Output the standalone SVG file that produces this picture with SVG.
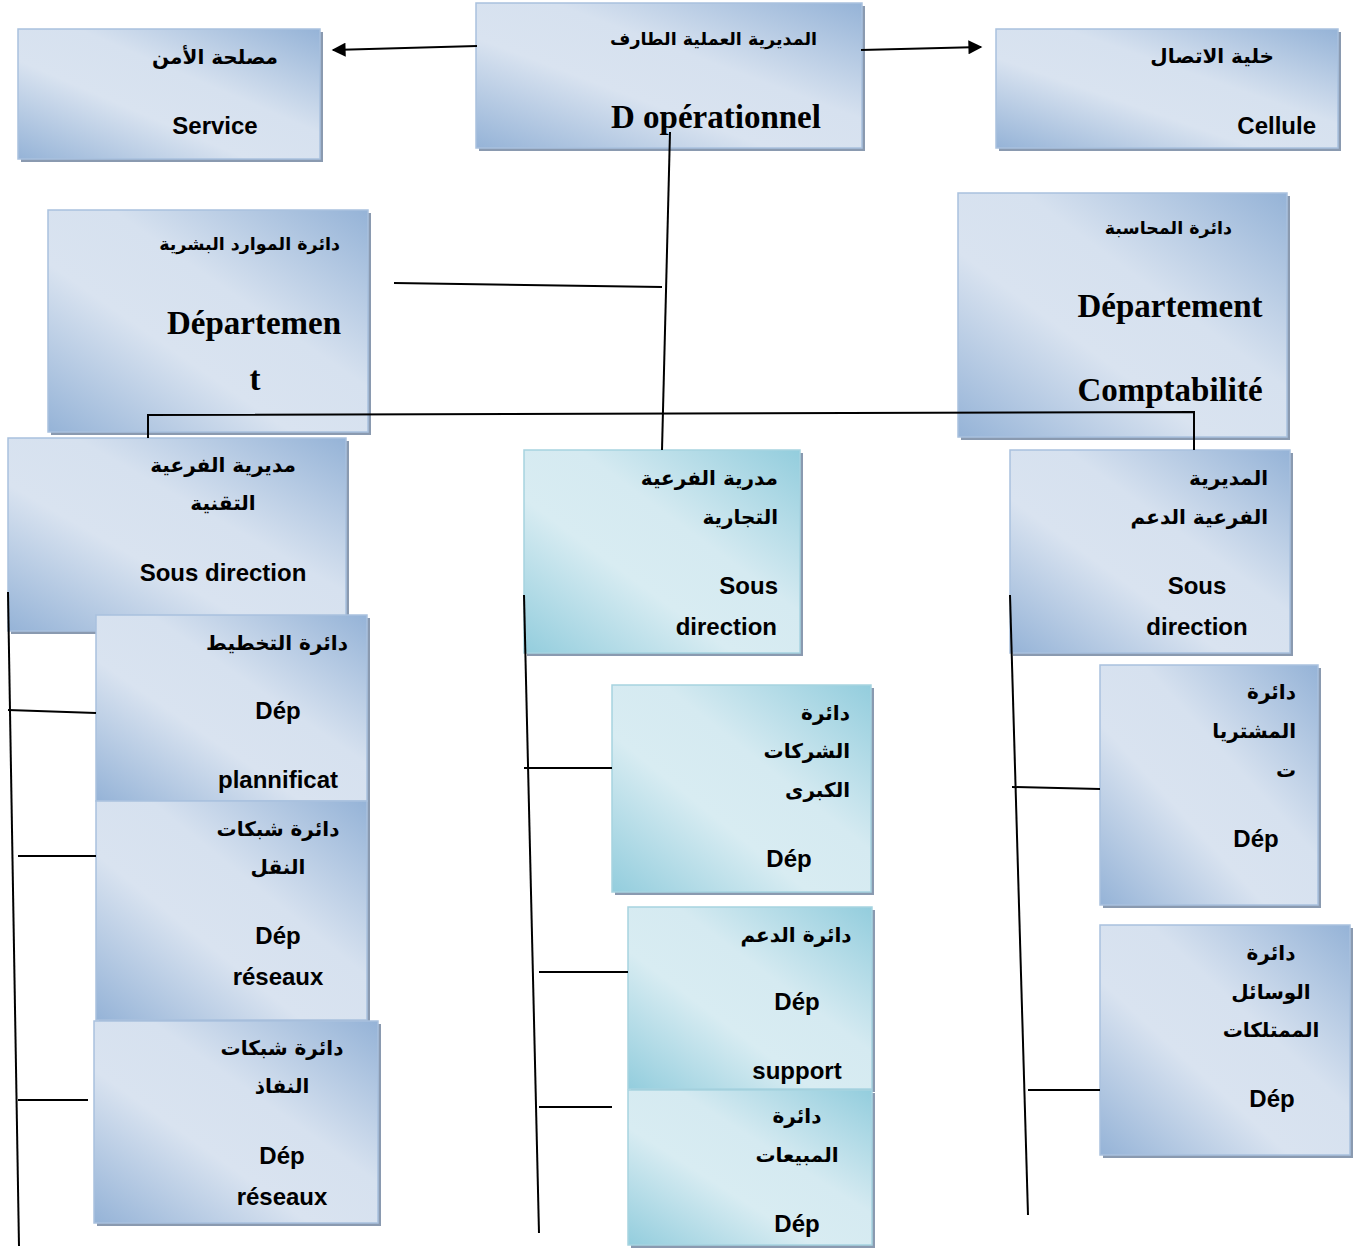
<svg xmlns="http://www.w3.org/2000/svg" width="1359" height="1248" viewBox="0 0 1359 1248">
<defs>
<linearGradient id="gb" x1="0" y1="1" x2="1" y2="0">
<stop offset="0" stop-color="#95b3d7"/>
<stop offset="0.38" stop-color="#d9e3f0"/>
<stop offset="0.6" stop-color="#d6e1ef"/>
<stop offset="1" stop-color="#95b3d7"/>
</linearGradient>
<linearGradient id="gt" x1="0" y1="1" x2="1" y2="0">
<stop offset="0" stop-color="#93cddd"/>
<stop offset="0.38" stop-color="#d8ecf2"/>
<stop offset="0.6" stop-color="#d5eaf1"/>
<stop offset="1" stop-color="#93cddd"/>
</linearGradient>
<marker id="ah" viewBox="0 0 10 10" refX="9" refY="5" markerWidth="17" markerHeight="14" markerUnits="userSpaceOnUse" orient="auto">
<path d="M0,0 L10,5 L0,10 z" fill="#000"/>
</marker>
</defs>
<style>
.sh{fill:#8a9ab0}
.bb{fill:url(#gb);stroke:#a9c1de;stroke-width:1.5}
.bt{fill:url(#gt);stroke:#a6d3e0;stroke-width:1.5}
.ar{font-family:"DejaVu Sans",sans-serif;font-weight:bold;font-size:20px;fill:#000}
.nk{font-size:17.5px}
.la{font-family:"Liberation Sans",Arial,sans-serif;font-weight:bold;font-size:24px;fill:#000}
.se{font-family:"Liberation Serif","Times New Roman",serif;font-weight:bold;font-size:33px;fill:#000}
.ln{stroke:#000;stroke-width:2;fill:none}
.m{text-anchor:middle}
.e{text-anchor:end}
</style>

<g id="n-securite">
<rect class="sh" x="21" y="32" width="302" height="130"/>
<rect class="bb" x="18" y="29" width="302" height="130"/>
<text class="ar e" x="278" y="64">مصلحة الأمن</text>
<text class="la m" x="215" y="134">Service</text>
</g>

<g id="n-direction">
<rect class="sh" x="479" y="6" width="386" height="145"/>
<rect class="bb" x="476" y="3" width="386" height="145"/>
<text class="ar nk e" x="817" y="45">المديرية العملية الطارف</text>
<text class="se m" x="716" y="128">D opérationnel</text>
</g>

<g id="n-cellule">
<rect class="sh" x="999" y="32" width="342" height="119"/>
<rect class="bb" x="996" y="29" width="342" height="119"/>
<text class="ar e" x="1274" y="63">خلية الاتصال</text>
<text class="la e" x="1316" y="134">Cellule</text>
</g>

<g id="n-rh">
<rect class="sh" x="51" y="213" width="320" height="222"/>
<rect class="bb" x="48" y="210" width="320" height="222"/>
<text class="ar nk e" x="340" y="250">دائرة الموارد البشرية</text>
<text class="se m" x="254" y="334">Départemen</text>
<text class="se m" x="255" y="390">t</text>
</g>

<g id="n-compta">
<rect class="sh" x="961" y="196" width="329" height="244"/>
<rect class="bb" x="958" y="193" width="329" height="244"/>
<text class="ar nk e" x="1232" y="234">دائرة المحاسبة</text>
<text class="se m" x="1170" y="317">Département</text>
<text class="se m" x="1170" y="401">Comptabilité</text>
</g>

<g id="n-sd-tech">
<rect class="sh" x="11" y="441" width="338" height="193"/>
<rect class="bb" x="8" y="438" width="338" height="193"/>
<text class="ar m" x="223" y="472">مديرية الفرعية</text>
<text class="ar m" x="223" y="510">التقنية</text>
<text class="la m" x="223" y="581">Sous direction</text>
</g>

<g id="n-sd-com">
<rect class="sh" x="527" y="453" width="276" height="203"/>
<rect class="bt" x="524" y="450" width="276" height="203"/>
<text class="ar e" x="778" y="485">مدرية الفرعية</text>
<text class="ar e" x="778" y="524">التجارية</text>
<text class="la e" x="778" y="594">Sous</text>
<text class="la e" x="777" y="635">direction</text>
</g>

<g id="n-sd-support">
<rect class="sh" x="1013" y="453" width="280" height="203"/>
<rect class="bb" x="1010" y="450" width="280" height="203"/>
<text class="ar e" x="1268" y="485">المديرية</text>
<text class="ar e" x="1268" y="524">الفرعية الدعم</text>
<text class="la m" x="1197" y="594">Sous</text>
<text class="la m" x="1197" y="635">direction</text>
</g>

<g id="n-planif">
<rect class="sh" x="99" y="618" width="271" height="186"/>
<rect class="bb" x="96" y="615" width="271" height="186"/>
<text class="ar m" x="277" y="650">دائرة التخطيط</text>
<text class="la m" x="278" y="719">Dép</text>
<text class="la m" x="278" y="788">plannificat</text>
</g>

<g id="n-transport">
<rect class="sh" x="99" y="804" width="271" height="219"/>
<rect class="bb" x="96" y="801" width="271" height="219"/>
<text class="ar m" x="278" y="836">دائرة شبكات</text>
<text class="ar m" x="278" y="874">النقل</text>
<text class="la m" x="278" y="944">Dép</text>
<text class="la m" x="278" y="985">réseaux</text>
</g>

<g id="n-acces">
<rect class="sh" x="97" y="1024" width="284" height="202"/>
<rect class="bb" x="94" y="1021" width="284" height="202"/>
<text class="ar m" x="282" y="1055">دائرة شبكات</text>
<text class="ar m" x="282" y="1093">النفاذ</text>
<text class="la m" x="282" y="1164">Dép</text>
<text class="la m" x="282" y="1205">réseaux</text>
</g>

<g id="n-grandes">
<rect class="sh" x="615" y="688" width="259" height="207"/>
<rect class="bt" x="612" y="685" width="259" height="207"/>
<text class="ar e" x="850" y="720">دائرة</text>
<text class="ar e" x="850" y="758">الشركات</text>
<text class="ar e" x="850" y="797">الكبرى</text>
<text class="la m" x="789" y="867">Dép</text>
</g>

<g id="n-soutien">
<rect class="sh" x="631" y="910" width="244" height="182"/>
<rect class="bt" x="628" y="907" width="244" height="182"/>
<text class="ar m" x="796" y="942">دائرة الدعم</text>
<text class="la m" x="797" y="1010">Dép</text>
<text class="la m" x="797" y="1079">support</text>
</g>

<g id="n-ventes">
<rect class="sh" x="631" y="1093" width="244" height="155"/>
<rect class="bt" x="628" y="1090" width="244" height="155"/>
<text class="ar m" x="797" y="1123">دائرة</text>
<text class="ar m" x="797" y="1162">المبيعات</text>
<text class="la m" x="797" y="1232">Dép</text>
</g>

<g id="n-achats">
<rect class="sh" x="1103" y="668" width="218" height="240"/>
<rect class="bb" x="1100" y="665" width="218" height="240"/>
<text class="ar e" x="1296" y="699">دائرة</text>
<text class="ar e" x="1296" y="738">المشتريا</text>
<text class="ar e" x="1296" y="777">ت</text>
<text class="la m" x="1256" y="847">Dép</text>
</g>

<g id="n-moyens">
<rect class="sh" x="1103" y="928" width="250" height="230"/>
<rect class="bb" x="1100" y="925" width="250" height="230"/>
<text class="ar m" x="1271" y="960">دائرة</text>
<text class="ar m" x="1271" y="999">الوسائل</text>
<text class="ar m" x="1271" y="1037">الممتلكات</text>
<text class="la m" x="1272" y="1107">Dép</text>
</g>

<g id="connectors">
<line class="ln" x1="477" y1="46" x2="333" y2="50" marker-end="url(#ah)"/>
<line class="ln" x1="861" y1="50" x2="981" y2="47" marker-end="url(#ah)"/>
<line class="ln" x1="670" y1="132" x2="662" y2="450"/>
<line class="ln" x1="394" y1="283" x2="662" y2="287"/>
<polyline class="ln" points="148,438 148,415 1194,412 1194,450"/>
<line class="ln" x1="8" y1="592" x2="19" y2="1246"/>
<line class="ln" x1="8" y1="710" x2="96" y2="713"/>
<line class="ln" x1="18" y1="856" x2="96" y2="856"/>
<line class="ln" x1="18" y1="1100" x2="88" y2="1100"/>
<line class="ln" x1="524" y1="595" x2="539" y2="1233"/>
<line class="ln" x1="524" y1="768" x2="612" y2="768"/>
<line class="ln" x1="539" y1="972" x2="628" y2="972"/>
<line class="ln" x1="539" y1="1107" x2="612" y2="1107"/>
<line class="ln" x1="1010" y1="595" x2="1028" y2="1215"/>
<line class="ln" x1="1012" y1="787" x2="1100" y2="789"/>
<line class="ln" x1="1028" y1="1090" x2="1100" y2="1090"/>
</g>
</svg>
